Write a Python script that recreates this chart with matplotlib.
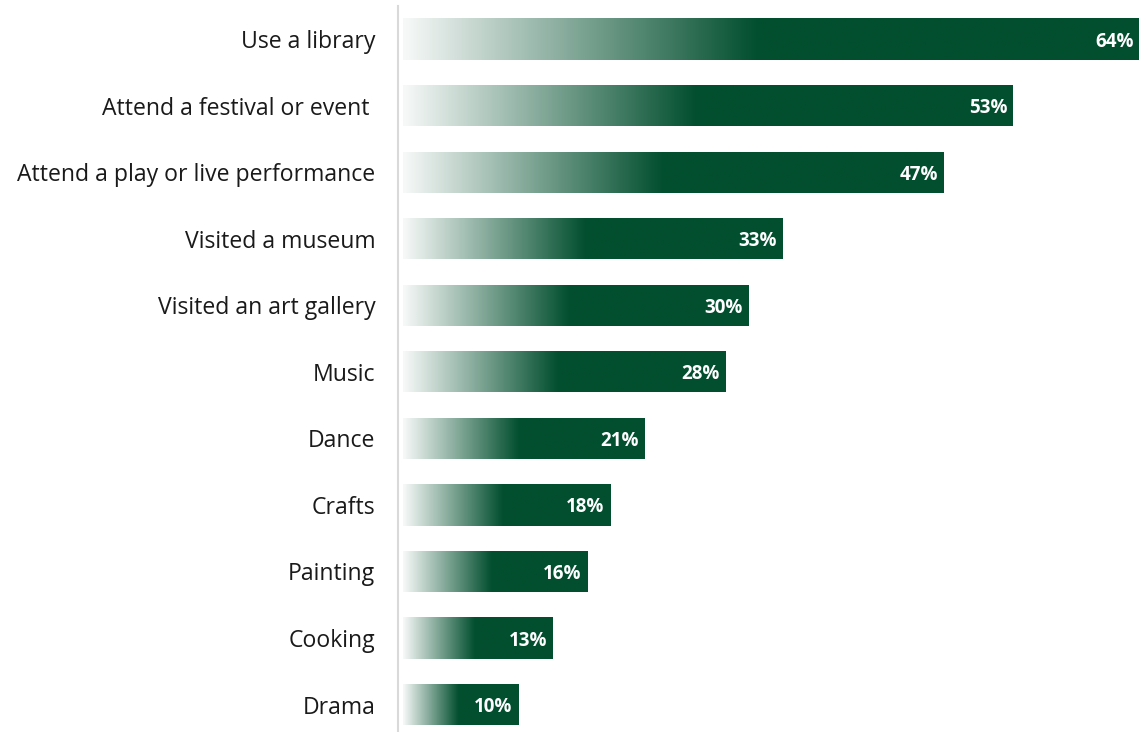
import numpy as np
import matplotlib.pyplot as plt
from matplotlib.colors import LinearSegmentedColormap

activities = ["Use a library", "Attend a festival or event ", "Attend a play or live performance",
              "Visited a museum", "Visited an art gallery", "Music", "Dance", "Crafts",
              "Painting", "Cooking", "Drama"]
percent = [64, 53, 47, 33, 30, 28, 21, 18, 16, 13, 10]

green = "#024f2f"
fade = LinearSegmentedColormap.from_list("fade", [(0.0, "#f7f9f8"), (0.48, green), (1.0, green)])

fig = plt.figure(figsize=(11.39, 7.32), dpi=100)
ax = fig.add_axes([0.349, -0.008, 0.651, 1.0])

y = np.arange(len(activities))
bars = ax.barh(y, percent, height=0.62, color="none")

# horizontal gradient inside each bar, white on the left to solid green
grad = np.linspace(0, 1, 256).reshape(1, -1)
for bar in bars:
    x0, y0 = bar.get_x(), bar.get_y()
    w, h = bar.get_width(), bar.get_height()
    im = ax.imshow(grad, cmap=fade, aspect="auto", extent=[x0, x0 + w, y0 + h, y0],
                   interpolation="bicubic", zorder=2)
    im.set_clip_path(bar)

for yi, v in zip(y, percent):
    ax.text(v - 0.45, yi, f"{v}%", ha="right", va="center_baseline", color="white",
            fontsize=13.5, fontweight="bold", family="Open Sans", zorder=3)

ax.set_xlim(-0.45, 64.0)
ax.set_ylim(len(activities) - 0.5, -0.5)
ax.set_yticks(y)
ax.set_yticklabels(activities, fontsize=16.6, family="Open Sans", color="#1a1a1a")
ax.tick_params(axis="y", length=0, pad=16)
ax.set_xticks([])

for side in ["top", "right", "bottom"]:
    ax.spines[side].set_visible(False)
ax.spines["left"].set_color("#d9d9d9")
ax.spines["left"].set_linewidth(1.5)

fig.savefig("out.png", dpi=100)
